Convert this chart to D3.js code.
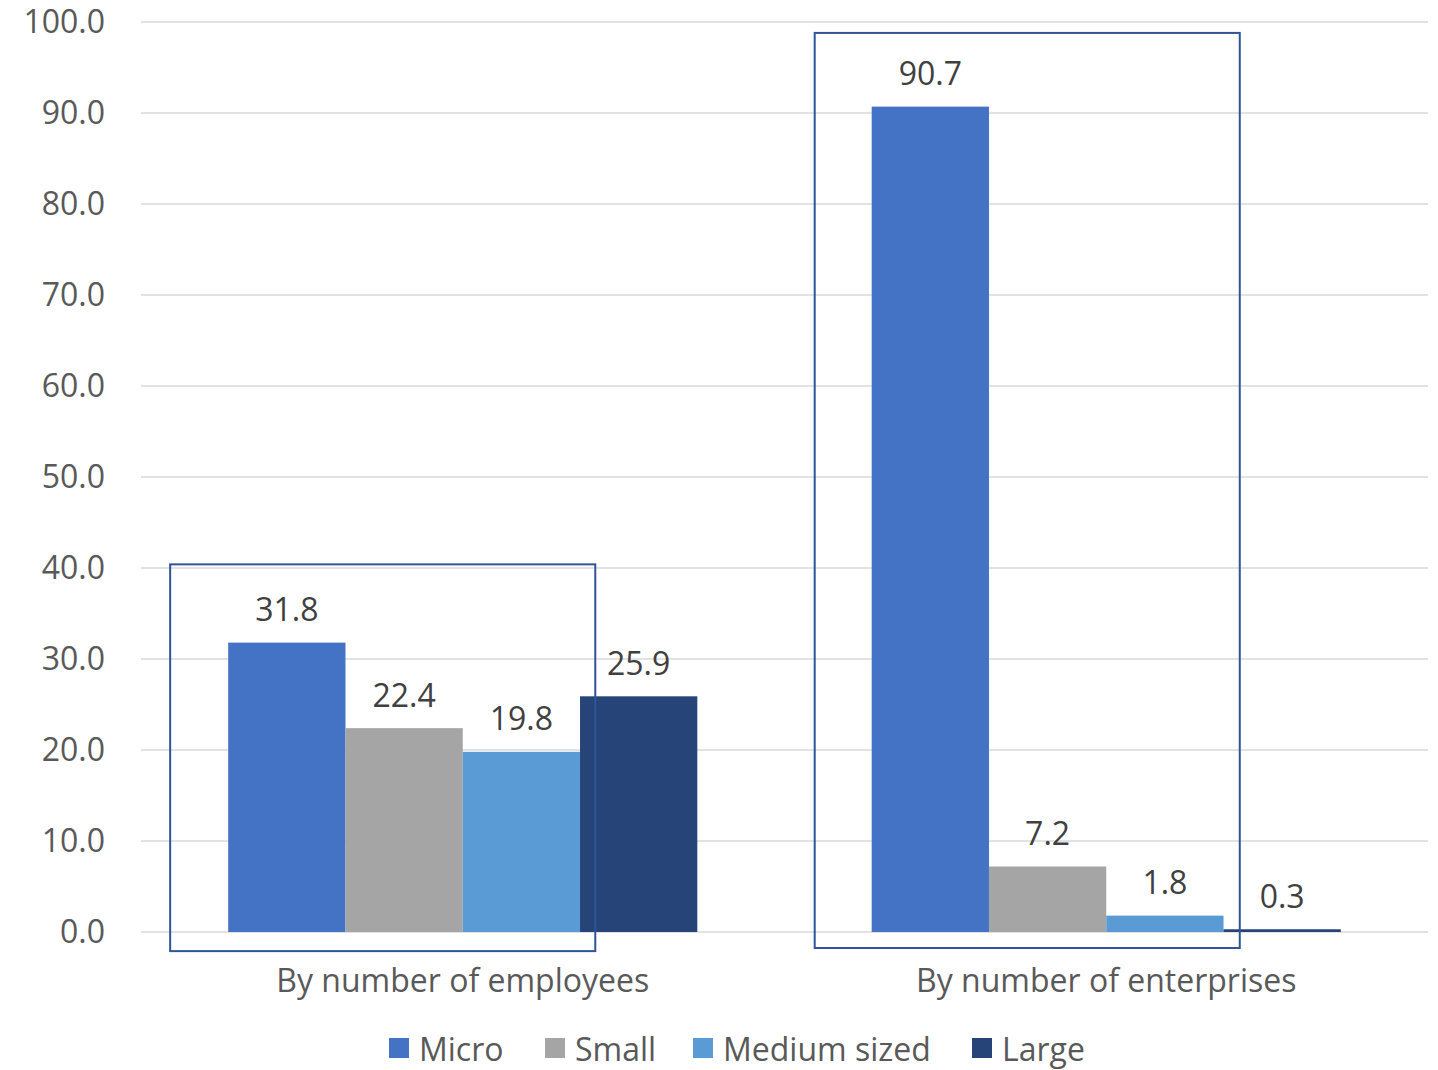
<!DOCTYPE html>
<html><head><meta charset="utf-8">
<script src="https://cdn.jsdelivr.net/npm/d3@7"></script>
<style>body{margin:0;background:#fff;}svg{display:block;font-family:"Open Sans",sans-serif;}</style>
</head><body>
<svg id="c" width="1438" height="1070"></svg>
<script>
const categories = ["By number of employees", "By number of enterprises"];
const seriesNames = ["Micro", "Small", "Medium sized", "Large"];
const micro = [31.8, 90.7];
const small = [22.4, 7.2];
const medium = [19.8, 1.8];
const large = [25.9, 0.3];
const yTicks = [0,10,20,30,40,50,60,70,80,90,100];
const colors = ["#4472C4", "#A5A5A5", "#5B9BD5", "#264478"];
const seriesValues = [micro, small, medium, large];

const svg = d3.select("#c");
const m = {left:141, right:10, top:22, bottom:138};
const W = 1438, H = 1070;
const pw = W - m.left - m.right, ph = H - m.top - m.bottom;
const g = svg.append("g").attr("transform",`translate(${m.left},${m.top})`);

const x0 = d3.scaleBand().domain(categories).range([0,pw]).paddingInner(0.271).paddingOuter(0.1355);
const x1 = d3.scaleBand().domain(seriesNames).range([0,x0.bandwidth()]);
const y = d3.scaleLinear().domain([0,100]).range([ph,0]);

// gridlines
g.append("g").selectAll("line").data(yTicks).join("line")
  .attr("x1",0).attr("x2",pw).attr("y1",d=>y(d)).attr("y2",d=>y(d))
  .attr("stroke","#D9D9D9").attr("stroke-width",1.5);

// y axis labels
const yAxis = d3.axisLeft(y).tickValues(yTicks).tickFormat(d3.format(".1f")).tickSize(0).tickPadding(36);
const ya = g.append("g").call(yAxis);
ya.select(".domain").remove();
ya.selectAll("text").attr("font-size",32).attr("fill","#595959").attr("font-family","'Open Sans',sans-serif");

// bars
const groups = g.append("g").selectAll("g").data(categories).join("g")
  .attr("transform",d=>`translate(${x0(d)},0)`);
groups.each(function(cat,ci){
  const data = seriesNames.map((s,si)=>({s, v:seriesValues[si][ci], c:colors[si]}));
  const gg = d3.select(this);
  gg.selectAll("rect").data(data).join("rect")
    .attr("x",d=>x1(d.s)).attr("width",x1.bandwidth())
    .attr("y",d=>y(d.v)).attr("height",d=>ph-y(d.v)).attr("fill",d=>d.c);
  gg.selectAll("text").data(data).join("text")
    .attr("x",d=>x1(d.s)+x1.bandwidth()/2).attr("y",d=>y(d.v)-34)
    .attr("text-anchor","middle").attr("dominant-baseline","central")
    .attr("font-size",32).attr("fill","#404040").text(d=>d.v.toFixed(1));
});

// x axis labels
g.append("g").selectAll("text").data(categories).join("text")
  .attr("x",d=>x0(d)+x0.bandwidth()/2).attr("y",ph+47)
  .attr("text-anchor","middle").attr("dominant-baseline","central")
  .attr("font-size",32).attr("fill","#595959").text(d=>d);

// annotation boxes (in data-relative terms)
const boxes = [
  {cat:0, x0f:-0.1237, x1f:0.7825, top:40.4, bottom:-2.1},
  {cat:1, x0f:-0.1215, x1f:0.7846, top:98.8, bottom:-1.76}
];
g.append("g").selectAll("rect").data(boxes).join("rect")
  .attr("x",d=>x0(categories[d.cat])+d.x0f*x0.bandwidth())
  .attr("width",d=>(d.x1f-d.x0f)*x0.bandwidth())
  .attr("y",d=>y(d.top)).attr("height",d=>y(d.bottom)-y(d.top))
  .attr("fill","none").attr("stroke","#2F5597").attr("stroke-width",2);

// legend
const legendX = [389, 545, 693, 972];
const lg = svg.append("g").attr("transform","translate(0,1048)");
const li = lg.selectAll("g").data(seriesNames).join("g").attr("transform",(d,i)=>`translate(${legendX[i]},0)`);
li.append("rect").attr("x",0).attr("y",-10).attr("width",20).attr("height",20).attr("fill",(d,i)=>colors[i]);
li.append("text").attr("x",30).attr("y",0).attr("dominant-baseline","central")
  .attr("font-size",32).attr("fill","#595959").text(d=>d);
</script>
</body></html>
